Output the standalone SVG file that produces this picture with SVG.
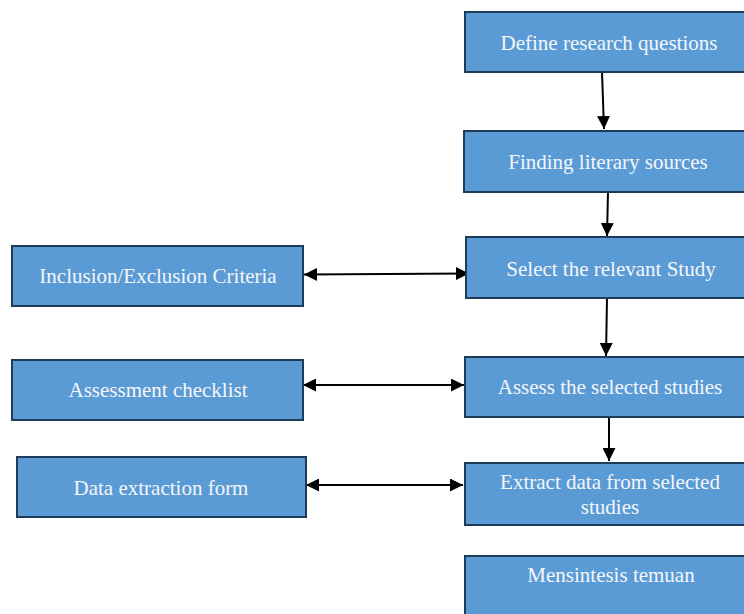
<svg xmlns="http://www.w3.org/2000/svg" width="744" height="614" viewBox="0 0 744 614">
<defs>
<style>
.box{fill:#5B9BD5;stroke:#1F3B5A;stroke-width:2}
.t{font-family:"Liberation Serif","Times New Roman",serif;font-size:21px;fill:#F4F6FA;text-anchor:middle}
.c{stroke:#000;stroke-width:2;fill:none}
</style>
<marker id="ah" viewBox="0 0 10 10" refX="10" refY="5" markerWidth="6.5" markerHeight="6.5" markerUnits="strokeWidth" orient="auto-start-reverse">
<path d="M0,0 L10,5 L0,10 z" fill="#000"/>
</marker>
</defs>
<rect width="744" height="614" fill="#fff"/>
<g id="connectors">
<line class="c" x1="602" y1="72" x2="604" y2="129" marker-end="url(#ah)"/>
<line class="c" x1="608" y1="192" x2="607" y2="236" marker-end="url(#ah)"/>
<line class="c" x1="607" y1="298" x2="606" y2="356" marker-end="url(#ah)"/>
<line class="c" x1="609" y1="417" x2="609" y2="461" marker-end="url(#ah)"/>
<line class="c" x1="304" y1="274.5" x2="469" y2="273.5" marker-start="url(#ah)" marker-end="url(#ah)"/>
<line class="c" x1="303" y1="385" x2="464" y2="385" marker-start="url(#ah)" marker-end="url(#ah)"/>
<line class="c" x1="306" y1="485" x2="463" y2="485" marker-start="url(#ah)" marker-end="url(#ah)"/>
</g>
<g id="define"><rect class="box" x="465" y="12" width="290" height="60"/><text class="t" x="609" y="50">Define research questions</text></g>
<g id="finding"><rect class="box" x="464" y="131" width="290" height="61"/><text class="t" x="608" y="169">Finding literary sources</text></g>
<g id="select"><rect class="box" x="466" y="237" width="290" height="61"/><text class="t" x="611" y="276">Select the relevant Study</text></g>
<g id="assess"><rect class="box" x="465" y="357" width="290" height="60"/><text class="t" x="610" y="394">Assess the selected studies</text></g>
<g id="extract"><rect class="box" x="465" y="463" width="290" height="62"/><text class="t" x="610" y="489">Extract data from selected</text><text class="t" x="610" y="514">studies</text></g>
<g id="mensintesis"><rect class="box" x="465" y="556" width="290" height="70"/><text class="t" x="611" y="582">Mensintesis temuan</text></g>
<g id="inclusion"><rect class="box" x="12" y="246" width="291" height="60"/><text class="t" x="158" y="283">Inclusion/Exclusion Criteria</text></g>
<g id="checklist"><rect class="box" x="12" y="360" width="291" height="60"/><text class="t" x="158" y="397">Assessment checklist</text></g>
<g id="form"><rect class="box" x="17" y="457" width="289" height="60"/><text class="t" x="161" y="495">Data extraction form</text></g>
</svg>
